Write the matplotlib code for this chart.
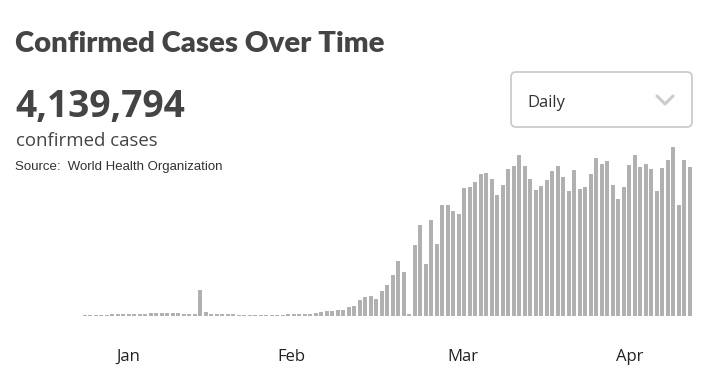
import matplotlib
matplotlib.use("Agg")
import matplotlib.pyplot as plt
from matplotlib.patches import FancyBboxPatch
import numpy as np

# ---- data ----
title = "Confirmed Cases Over Time"
total_text = "4,139,794"
subtitle = "confirmed cases"
source = "Source:  World Health Organization"
dropdown_label = "Daily"

daily_cases = [
    180, 180, 300, 300, 360, 420, 480, 480, 600,
    1200, 1200, 1300, 1300, 1400, 1400, 1500,
    1800, 1800, 2100, 2100, 1900, 1800,
    1500, 1300, 1200,
    15600,
    2400, 1500, 1300, 1200, 1200, 1100,
    600, 600, 600, 600, 650, 700, 700, 800, 900,
    1200, 1200, 1300, 1400, 1500,
    2000, 2700, 2900,
    3000, 3400, 3600, 5600, 6000, 9600, 11600, 12200, 10200, 15200,
    18400, 24800, 33200, 26600, 1200, 42800, 54600, 31000, 57600, 43200,
    66400, 66400, 62800, 61000, 76800, 77400, 80600, 85000, 85800, 82400,
    72800, 78400, 88000, 90000, 96600, 90000, 82000, 75800, 77800, 81600,
    87000, 89800, 83400, 75000, 87800, 76400, 77200, 85200, 95000, 91000,
    92800, 78400, 70200, 77400, 90400, 96400, 89400, 91400, 88000, 74800,
    89000, 93800, 101200, 66800, 93400, 89600,
]
month_labels = ["Jan", "Feb", "Mar", "Apr"]
month_positions = [12.1, 41.6, 72.9, 103.1]

W, H = 704, 369
DPI = 100
fig = plt.figure(figsize=(W / DPI, H / DPI), dpi=DPI)
fig.patch.set_facecolor("white")

# ---- bar chart axes (pixel layout) ----
n = len(daily_cases)
pitch = 5.5
left_px = 62.2 - pitch / 2
base_px = 316
plot_h_px = 170
ax = fig.add_axes([left_px / W, (H - base_px) / H, n * pitch / W, plot_h_px / H])
x = np.arange(n)
ax.bar(x, daily_cases, width=0.52, color="#b0b0b0", edgecolor="#b0b0b0",
       linewidth=0.7, joinstyle="round")
ax.set_xlim(-0.5, n - 0.5)
ax.set_ylim(0, plot_h_px * 600)
for s in ax.spines.values():
    s.set_visible(False)
ax.set_yticks([])
ax.set_xticks(month_positions)
ax.set_xticklabels(month_labels, fontsize=12, color="#222222", family="Open Sans")
ax.tick_params(axis="x", length=0, pad=24)
ax.set_facecolor("none")

# ---- overlay in pixel coordinates ----
ov = fig.add_axes([0, 0, 1, 1], zorder=5)
ov.set_xlim(0, W)
ov.set_ylim(H, 0)
ov.axis("off")
ov.patch.set_alpha(0)

renderer = fig.canvas.get_renderer()


def fit_text(xp, yp, s, target_w, size, **kw):
    t = ov.text(xp, yp, s, fontsize=size, va="baseline", ha="left", **kw)
    w = t.get_window_extent(renderer=renderer).width
    t.set_fontsize(size * target_w / w)
    return t


fit_text(15, 52, title, 368, 22, family="Lato", weight="heavy", color="#444444")
fit_text(15, 117, total_text, 170, 27, family="Open Sans", weight="bold", color="#444444")
fit_text(16, 146, subtitle, 141, 12, family="Open Sans", color="#444444")
fit_text(15, 170, source, 210, 9, family="Liberation Sans", color="#333333")

# dropdown box
box = FancyBboxPatch((511, 72), 181, 55, boxstyle="round,pad=0,rounding_size=5",
                     facecolor="white", edgecolor="#cccccc", linewidth=1.3)
ov.add_patch(box)
fit_text(527, 107, dropdown_label, 38, 12, family="Open Sans", color="#333333")
ov.plot([657, 665, 673], [96, 104, 96], color="#cccccc", linewidth=2.2,
        solid_capstyle="round", solid_joinstyle="round")

fig.savefig("out.png", dpi=DPI, facecolor="white")
